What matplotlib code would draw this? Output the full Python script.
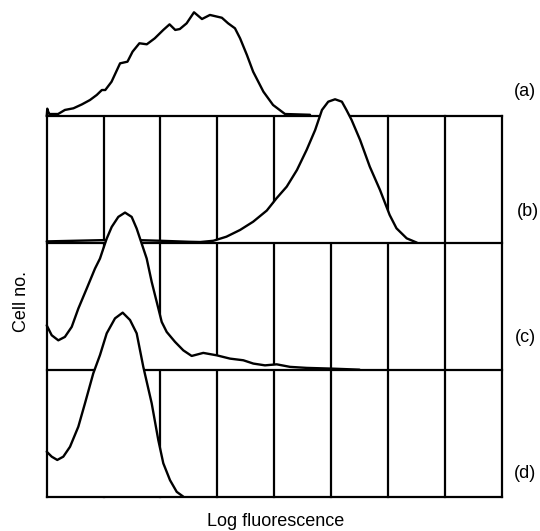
import matplotlib
matplotlib.use("Agg")
import matplotlib.pyplot as plt
import numpy as np

plt.rcParams['font.family'] = ['Liberation Sans', 'DejaVu Sans']

# ---- data -------------------------------------------------------------
grid_x = [0, 1, 2, 3, 4, 5, 6, 7, 8]          # vertical grid positions (log fluorescence)
panel_base = [3, 2, 1, 0]                      # baselines of histograms a, b, c, d
panel_labels = ['(a)', '(b)', '(c)', '(d)']

a_x = [0.00, 0.01, 0.04, 0.06, 0.20, 0.32, 0.47, 0.62, 0.76, 0.88, 0.97, 1.03, 1.14,
       1.29, 1.42, 1.51, 1.63, 1.76, 1.90, 2.05, 2.16, 2.26, 2.34, 2.46, 2.59, 2.73,
       2.87, 3.08, 3.19, 3.31, 3.40, 3.52, 3.63, 3.81, 3.98, 4.19, 4.63]
a_y = [0.00, 0.06, 0.02, 0.018, 0.018, 0.050, 0.063, 0.094, 0.128, 0.168, 0.207, 0.207,
       0.272, 0.417, 0.430, 0.509, 0.575, 0.567, 0.614, 0.680, 0.724, 0.680, 0.687,
       0.732, 0.819, 0.766, 0.798, 0.776, 0.732, 0.693, 0.614, 0.483, 0.351, 0.194,
       0.089, 0.018, 0.012]

b_x = [0.00, 0.50, 1.00, 1.60, 2.00, 2.50, 2.70, 2.93, 3.16, 3.40, 3.63, 3.87, 4.04,
       4.22, 4.40, 4.57, 4.72, 4.84, 4.95, 5.07, 5.19, 5.27, 5.36, 5.51, 5.68, 5.86,
       6.03, 6.15, 6.33, 6.51]
b_y = [0.015, 0.02, 0.025, 0.025, 0.02, 0.012, 0.01, 0.02, 0.052, 0.105, 0.170, 0.258,
       0.354, 0.446, 0.577, 0.735, 0.892, 1.050, 1.115, 1.134, 1.115, 1.050, 0.972,
       0.814, 0.604, 0.420, 0.223, 0.118, 0.039, 0.005]

c_x = [0.00, 0.088, 0.204, 0.32, 0.44, 0.556, 0.703, 0.849, 0.937, 0.995, 1.055, 1.143,
       1.259, 1.377, 1.494, 1.582, 1.670, 1.758, 1.846, 1.934, 2.022, 2.110, 2.256,
       2.402, 2.549, 2.753, 2.989, 3.223, 3.457, 3.633, 3.838, 4.044, 4.278, 4.571,
       5.03, 5.5]
c_y = [0.354, 0.276, 0.236, 0.263, 0.342, 0.486, 0.643, 0.801, 0.880, 0.958, 1.037,
       1.129, 1.208, 1.242, 1.208, 1.116, 0.998, 0.880, 0.696, 0.539, 0.381, 0.302,
       0.224, 0.157, 0.113, 0.137, 0.118, 0.092, 0.079, 0.053, 0.039, 0.047, 0.027,
       0.019, 0.013, 0.005]

d_x = [0.00, 0.088, 0.186, 0.292, 0.41, 0.556, 0.673, 0.819, 0.937, 1.055, 1.201,
       1.336, 1.465, 1.582, 1.698, 1.846, 1.962, 2.050, 2.168, 2.286, 2.402]
d_y = [0.359, 0.320, 0.294, 0.320, 0.398, 0.556, 0.740, 0.976, 1.120, 1.291, 1.409,
       1.454, 1.396, 1.291, 1.028, 0.740, 0.451, 0.268, 0.135, 0.043, 0.005]

x_label = 'Log fluorescence'
y_label = 'Cell no.'

# ---- figure -----------------------------------------------------------
W, H = 540, 531
fig = plt.figure(figsize=(W / 100, H / 100), dpi=100)
left_px, right_px, base_px, unit_px = 46.7, 501.7, 497.3, 127.0
ymax = 3.9
ax = fig.add_axes([left_px / W, (H - base_px) / H,
                   (right_px - left_px) / W, ymax * unit_px / H])
ax.set_xlim(grid_x[0], grid_x[-1])
ax.set_ylim(0, ymax)
ax.axis('off')

lw_grid = 1.6
lw_curve = 1.7
top = panel_base[0]

# inner vertical grid (can be hidden by curves)
for xv in grid_x[1:-1]:
    ax.plot([xv, xv], [0, top], color='black', lw=lw_grid, zorder=1, clip_on=False)
# outer frame (left, right, bottom) always visible
ax.plot([grid_x[0], grid_x[0]], [0, top], color='black', lw=lw_grid, zorder=10, clip_on=False)
ax.plot([grid_x[-1], grid_x[-1]], [0, top], color='black', lw=lw_grid, zorder=10, clip_on=False)
ax.plot([grid_x[0], grid_x[-1]], [0, 0], color='black', lw=lw_grid, zorder=10, clip_on=False,
        solid_capstyle='projecting')

eps = 0.006
curves = [(a_x, a_y), (b_x, b_y), (c_x, c_y), (d_x, d_y)]
for i, ((xs, ys), base) in enumerate(zip(curves, panel_base)):
    xs = np.asarray(xs)
    ys = np.asarray(ys)
    z = 2 + i
    top_line = base + ys
    ax.fill_between(xs, base + eps, np.maximum(top_line, base + eps),
                    color='white', lw=0, zorder=z, clip_on=False)
    # panel baseline sits above its own histogram fill, below the next one
    if base > 0:
        ax.plot([grid_x[0], grid_x[-1]], [base, base], color='black', lw=lw_grid,
                zorder=z + 0.2, clip_on=False, solid_capstyle='projecting')
    ax.plot(xs, top_line, color='black', lw=lw_curve, zorder=z + 0.5,
            solid_joinstyle='round', solid_capstyle='round', clip_on=False)

# panel labels
label_pos = [(525, 92), (528, 212), (525, 338), (525, 473)]
for lab, (px, py) in zip(panel_labels, label_pos):
    fig.text(px / W, 1 - py / H, lab, ha='center', va='center', fontsize=13)

fig.text(276 / W, 1 - 522 / H, x_label, ha='center', va='center', fontsize=13)
fig.text(22 / W, 1 - 302 / H, y_label, ha='center', va='center', fontsize=13,
         rotation=90)

fig.savefig('out.png', dpi=100)
